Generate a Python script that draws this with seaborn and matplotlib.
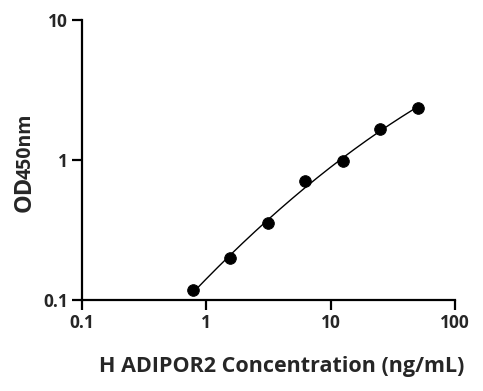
import numpy as np
import matplotlib
matplotlib.use("Agg")
import matplotlib.pyplot as plt
import seaborn as sns

# standard curve
conc = [0.78, 1.56, 3.125, 6.25, 12.5, 25, 50]
od450 = [0.117, 0.200, 0.353, 0.711, 0.979, 1.656, 2.36]
x_ticks = [0.1, 1, 10, 100]
x_tick_labels = ["0.1", "1", "10", "100"]
y_ticks = [0.1, 1, 10]
y_tick_labels = ["0.1", "1", "10"]

sns.set_style("ticks")
plt.rcParams["font.family"] = ["Open Sans", "DejaVu Sans"]
plt.rcParams["font.weight"] = "bold"

fig = plt.figure(figsize=(4.83, 3.91), dpi=100)
ax = fig.add_axes([82 / 483, 1 - 300 / 391, (455 - 82) / 483, 280 / 391])

# smooth fit through the standards (quadratic in log-log space)
lx = np.log10(conc)
ly = np.log10(od450)
coef = np.polyfit(lx, ly, 2)
fx = np.linspace(lx[0], lx[-1], 200)
fy = np.polyval(coef, fx)
sns.lineplot(x=10 ** fx, y=10 ** fy, ax=ax, color="black", linewidth=1.0)
sns.scatterplot(x=conc, y=od450, ax=ax, color="black", s=70, edgecolor="black", zorder=3)

ax.set_xscale("log")
ax.set_yscale("log")
ax.set_xlim(0.1, 100)
ax.set_ylim(0.1, 10)
ax.set_xticks(x_ticks)
ax.set_xticklabels(x_tick_labels)
ax.set_yticks(y_ticks)
ax.set_yticklabels(y_tick_labels)
ax.minorticks_off()
ax.tick_params(axis="both", length=7, width=1.6, labelsize=12.5, pad=3, color="black")
for lab in ax.get_xticklabels() + ax.get_yticklabels():
    lab.set_fontweight("bold")
for s in ["left", "bottom"]:
    ax.spines[s].set_linewidth(1.6)
    ax.spines[s].set_color("black")
sns.despine(ax=ax)

ax.set_xlabel("H ADIPOR2 Concentration (ng/mL)", fontsize=15.5, fontweight="bold")
ax.xaxis.set_label_coords((282 - 82) / 373, -(372 - 300) / 280)
ax.xaxis.label.set_va("baseline")

# y label: "OD" large, "450nm" smaller, sharing a baseline
od = fig.text(31 / 483, 1 - 212 / 391, "OD", rotation=90, fontsize=17, fontweight="bold",
              ha="left", va="baseline", rotation_mode="anchor")
fig.canvas.draw()
bb = od.get_window_extent()
fig.text(31 / 483, (bb.y1 - 3) / fig.bbox.height, "450nm", rotation=90, fontsize=14,
         fontweight="bold", ha="left", va="baseline", rotation_mode="anchor")

fig.savefig("out.png", dpi=100)
